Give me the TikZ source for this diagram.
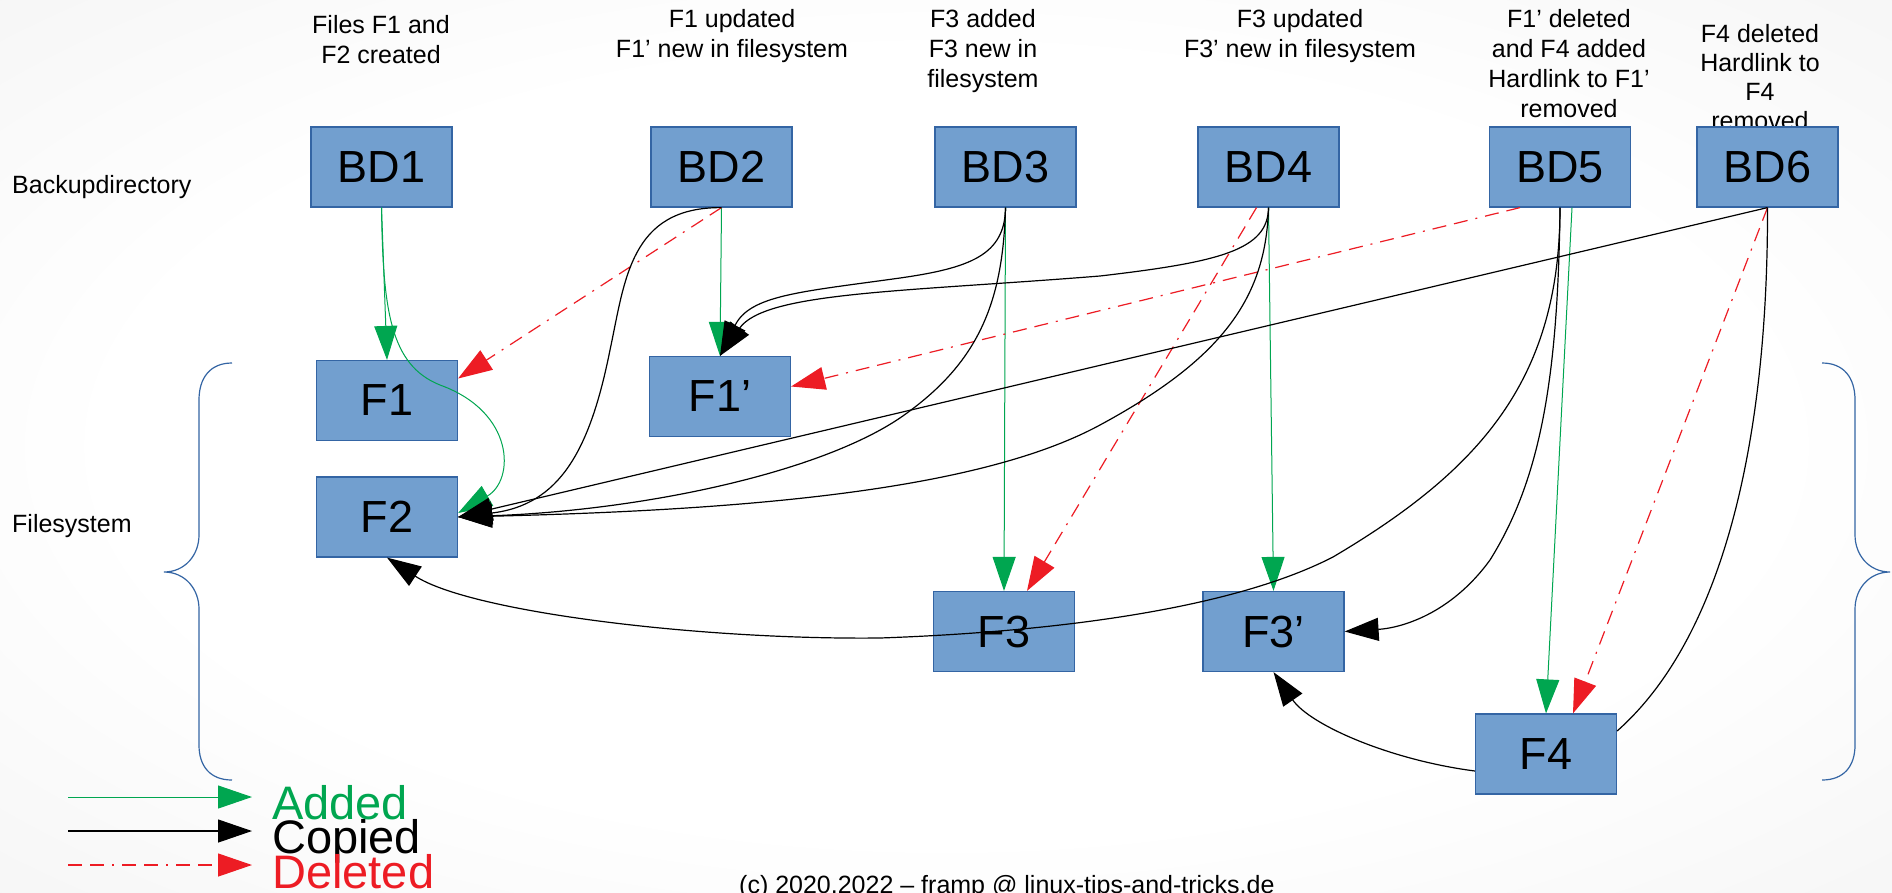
\documentclass[tikz,border=0pt]{standalone}
\usepackage{fontspec}
\setmainfont{Liberation Sans}
\usetikzlibrary{arrows.meta,calc}
\definecolor{boxfill}{HTML}{729FCF}
\definecolor{boxline}{HTML}{3465A4}
\definecolor{addgreen}{HTML}{00A650}
\definecolor{delred}{HTML}{ED1C24}
\pgfdeclareradialshading{bgshade}{\pgfpoint{0bp}{0bp}}{color(0bp)=(white);color(22bp)=(white);color(50bp)=(black!7);color(71bp)=(black!9)}
\begin{document}
\begin{tikzpicture}[x=1pt,y=-1pt,
  box/.style={draw=boxline,fill=boxfill,line width=1.2pt,minimum width=141pt,minimum height=80pt,inner sep=0pt,font=\fontsize{45}{54}\selectfont},
  lbl/.style={align=center,font=\fontsize{25}{30}\selectfont,inner sep=0pt,anchor=base},
  side/.style={font=\fontsize{25}{30}\selectfont,inner sep=0pt,anchor=base west},
  legtext/.style={font=\fontsize{47}{54}\selectfont,inner sep=0pt,anchor=base west},
  added/.style={draw=addgreen,line width=1pt,-{Triangle[length=34pt,width=23pt,fill=addgreen]}},
  copied/.style={draw=black,line width=1.2pt,-{Triangle[length=34pt,width=23pt,fill=black]}},
  deleted/.style={draw=delred,line width=1.2pt,dash pattern=on 14pt off 8pt on 14pt off 8pt on 2pt off 8pt,-{Triangle[length=34pt,width=23pt,fill=delred]}},
  plainline/.style={draw=black,line width=1.2pt},
  brace/.style={draw=boxline,line width=1.2pt}
]
\useasboundingbox (0,0) rectangle (1892,892);
\shade[shading=bgshade] (0,0) rectangle (1892,892);

% labels (anchor = baseline of the last line)
\node[lbl] (L1) at (381,63) {Files F1 and\\F2 created};
\node[lbl] (L2) at (732,57) {F1 updated\\F1’ new in filesystem};
\node[lbl] (L3) at (983,87) {F3 added\\F3 new in\\filesystem};
\node[lbl] (L4) at (1300,57) {F3 updated\\F3’ new in filesystem};
\node[lbl] (L5) at (1569,117) {F1’ deleted\\and F4 added\\Hardlink to F1’\\removed};
\node[lbl,font=\fontsize{25}{29}\selectfont] (L6) at (1760,129) {F4 deleted\\Hardlink to\\F4\\removed};
\node[side] (Lbd) at (12,193) {Backupdirectory};
\node[side] (Lfs) at (12,532) {Filesystem};
\node[side] (Lcp) at (739,893) {(c) 2020.2022 – framp @ linux-tips-and-tricks.de};

% braces
\draw[brace] (232,363) .. controls (210,363) and (199,378) .. (199,400) -- (199,535) .. controls (199,555) and (185,572) .. (164,572) .. controls (185,572) and (199,589) .. (199,609) -- (199,745) .. controls (199,766) and (210,780) .. (232,780);
\draw[brace] (1822,363) .. controls (1844,363) and (1855,378) .. (1855,400) -- (1855,535) .. controls (1855,555) and (1869,572) .. (1890,572) .. controls (1869,572) and (1855,589) .. (1855,609) -- (1855,745) .. controls (1855,766) and (1844,780) .. (1822,780);

% boxes
\node[box] (BD1) at (381.5,167) {BD1};
\node[box] (BD2) at (721.5,167) {BD2};
\node[box] (BD3) at (1005.5,167) {BD3};
\node[box] (BD4) at (1268.5,167) {BD4};
\node[box] (BD5) at (1560,167) {BD5};
\node[box] (BD6) at (1767.5,167) {BD6};
\node[box] (F1) at (387,400.5) {F1};
\node[box] (F1p) at (720,396.5) {F1’};
\node[box] (F2) at (387,517) {F2};
\node[box] (F3) at (1004,631.5) {F3};
\node[box] (F3p) at (1273.5,631.5) {F3’};
\node[box] (F4) at (1546,754) {F4};

% added
\draw[added] (BD1.south) -- (F1.north);
\draw[added] (BD1.south) .. controls (383,310) and (390,365) .. (440,385) .. controls (515,412) and (515,480) .. ([yshift=4pt]F2.east);
\draw[added] (BD2.south) -- (F1p.north);
\draw[added] (BD3.south) -- (F3.north);
\draw[added] (BD4.south) -- (F3p.north);
\draw[added] ([xshift=12pt]BD5.south) -- (F4.north);

% deleted
\draw[deleted] (BD2.south) -- ([yshift=22pt]F1.east);
\draw[deleted] ([xshift=-12pt]BD4.south) -- ([xshift=23pt]F3.north);
\draw[deleted] ([xshift=-40pt]BD5.south) -- ([yshift=10pt]F1p.east);
\draw[deleted] (BD6.south) -- ([xshift=27pt]F4.north);

% copied
\draw[copied] (BD2.south) .. controls (630,207) and (625,280) .. (610,350) .. controls (590,450) and (560,505) .. (F2.east);
\draw[copied] (BD3.south) .. controls (1005,255) and (970,268) .. (900,278) .. controls (800,292) and (750,295) .. (F1p.north);
\draw[copied] (BD4.south) .. controls (1268,250) and (1220,262) .. (1100,276) .. controls (900,292) and (765,292) .. (F1p.north);
\draw[copied] (BD3.south) .. controls (1003,300) and (980,360) .. (907,413) .. controls (830,470) and (650,510) .. (F2.east);
\draw[copied] (BD4.south) .. controls (1266,300) and (1220,360) .. (1100,425) .. controls (980,490) and (750,510) .. (F2.east);
\draw[copied] (BD6.south) -- (F2.east);
\draw[copied] (BD5.south) .. controls (1560,380) and (1480,470) .. (1333,557) .. controls (1230,610) and (1050,632) .. (880,638) .. controls (700,640) and (470,612) .. (F2.south);
\draw[copied] (BD5.south) .. controls (1558,380) and (1540,480) .. (1490,560) .. controls (1450,615) and (1400,628) .. (F3p.east);
\draw[plainline] (BD6.south) .. controls (1768,450) and (1720,640) .. ([yshift=23pt]F4.east);
\draw[copied] ([yshift=-17pt]F4.west) .. controls (1390,760) and (1310,725) .. (F3p.south);

% legend
\coordinate (ga) at (68,797); \coordinate (gb) at (252,797);
\coordinate (ca) at (68,831); \coordinate (cb) at (252,831);
\coordinate (da) at (68,865); \coordinate (db) at (252,865);
\draw[added] (ga) -- (gb);
\draw[copied] (ca) -- (cb);
\draw[deleted] (da) -- (db);
\node[legtext,text=addgreen] (tA) at (272,819) {Added};
\node[legtext,text=black] (tC) at (272,853) {Copied};
\node[legtext,text=delred] (tD) at (272,888) {Deleted};
\end{tikzpicture}
\end{document}
